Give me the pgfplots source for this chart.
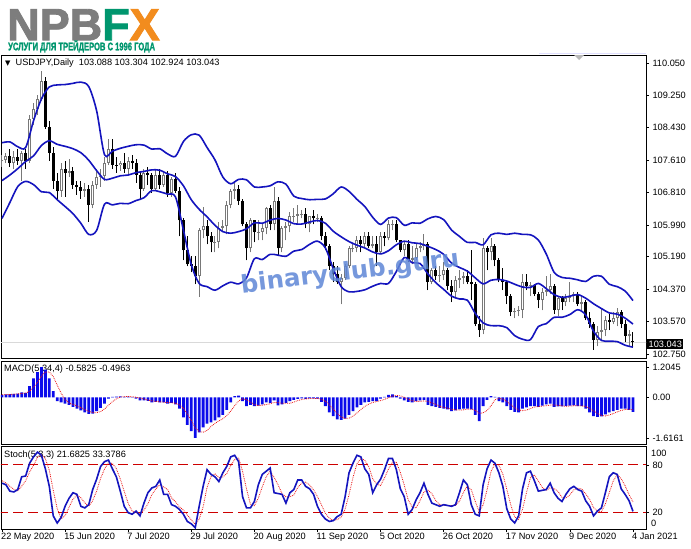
\documentclass[border=0pt]{standalone}
\usepackage{graphicx}
\usepackage{pgfplots}
\usepackage{pgfplotstable}
\pgfplotsset{compat=1.18}
\usepackage{fontspec}
\setmainfont{Liberation Sans}
\newfontfamily\dejavu{DejaVu Sans}
\newfontfamily\logofont[FakeBold=2]{Liberation Sans}

\definecolor{band}{RGB}{20,20,190}
\definecolor{bullgray}{RGB}{120,120,120}
\definecolor{histblue}{RGB}{10,10,235}
\definecolor{sigred}{RGB}{235,20,20}
\definecolor{lvlred}{RGB}{205,0,0}
\definecolor{logogray}{RGB}{125,125,125}
\definecolor{logogreen}{RGB}{0,150,110}
\definecolor{logoorange}{RGB}{242,140,30}
\definecolor{water}{RGB}{95,135,215}

% daily candles, bar 0 = 22 May 2020, bar 160 = 4 Jan 2021
\pgfplotstableread{
i o h l c
0 107.60 107.75 107.45 107.62
1 107.62 107.80 107.55 107.72
3 107.53 107.85 107.40 107.70
5 107.60 107.85 107.10 107.80
7 107.60 108.75 107.55 108.65
8 108.65 109.05 108.50 108.90
9 108.90 109.25 108.75 109.15
10 109.15 109.85 109.10 109.60
15 106.85 107.55 106.70 107.40
17 107.30 107.65 107.20 107.35
21 106.85 107.05 106.70 106.90
23 106.50 107.10 106.40 107.00
24 107.00 107.40 106.90 107.20
25 107.20 107.40 106.95 107.22
26 107.22 107.70 107.10 107.55
27 107.55 108.15 107.50 107.90
30 107.48 107.60 107.35 107.55
32 107.40 107.70 107.25 107.60
36 106.90 107.40 106.85 107.30
39 106.90 107.40 106.85 107.25
41 107.00 107.35 106.95 107.25
43 106.80 107.20 106.70 107.15
50 104.70 105.90 104.18 105.85
51 105.85 106.45 105.65 105.95
54 105.55 105.70 105.30 105.57
55 105.57 106.05 105.40 105.90
56 105.90 106.10 105.80 105.95
57 105.95 106.60 105.75 106.50
58 106.50 106.90 106.40 106.85
59 106.85 107.05 106.65 106.90
63 105.40 106.15 105.30 106.10
65 105.80 106.10 105.60 105.82
66 105.82 106.00 105.60 105.90
67 105.90 106.45 105.75 106.40
69 106.00 106.95 105.85 106.60
71 105.40 105.95 105.30 105.90
72 105.90 106.05 105.60 105.95
73 105.95 106.30 105.80 106.20
74 106.20 106.40 106.05 106.22
75 106.22 106.50 106.00 106.25
76 106.25 106.35 106.15 106.27
78 106.00 106.20 105.80 106.20
80 106.15 106.25 106.05 106.17
86 104.55 104.75 104.00 104.65
87 104.65 105.00 104.60 104.95
88 104.95 105.45 104.90 105.40
89 105.40 105.50 105.30 105.42
90 105.42 105.70 105.30 105.60
92 105.50 105.80 105.40 105.70
94 105.45 105.70 105.40 105.50
96 105.30 105.80 105.25 105.70
98 105.65 106.10 105.60 106.00
99 106.00 106.10 105.85 106.02
102 105.35 105.55 105.20 105.50
104 105.10 105.45 105.00 105.15
105 105.15 105.50 105.10 105.40
106 105.40 105.55 105.30 105.45
107 105.45 105.75 105.35 105.50
109 104.55 104.90 104.50 104.85
111 104.70 104.95 104.55 104.72
112 104.72 105.05 104.60 104.85
115 104.30 104.70 104.15 104.60
116 104.60 104.85 104.40 104.65
117 104.65 104.80 104.50 104.70
122 103.35 105.65 103.25 105.40
124 105.30 105.65 105.10 105.45
130 103.80 103.90 103.65 103.82
131 103.82 103.95 103.70 103.85
132 103.85 104.75 103.65 104.55
134 104.45 104.55 104.20 104.47
137 104.10 104.40 103.85 104.30
138 104.30 104.70 104.20 104.35
139 104.35 104.75 104.25 104.45
141 103.85 104.20 103.70 104.15
143 104.05 104.25 103.95 104.15
144 104.15 104.55 104.05 104.20
145 104.20 104.30 104.05 104.25
147 104.00 104.20 103.85 104.05
151 103.10 103.45 102.95 103.30
152 103.30 103.90 103.10 103.35
153 103.35 103.70 103.20 103.60
155 103.55 103.80 103.50 103.65
156 103.65 103.90 103.45 103.80
159 103.20 103.35 102.95 103.25
}\bull

\pgfplotstableread{
i o h l c
2 107.72 107.90 107.45 107.53
4 107.70 107.90 107.50 107.60
6 107.80 107.90 107.40 107.60
11 109.60 109.70 108.40 108.45
12 108.45 108.60 107.60 107.80
13 107.80 107.95 106.90 107.10
14 107.10 107.30 106.60 106.85
16 107.40 107.60 106.70 107.30
18 107.35 107.45 106.90 107.00
19 107.00 107.10 106.75 106.95
20 106.95 107.10 106.65 106.85
22 106.90 107.00 106.07 106.50
28 107.90 108.15 107.40 107.50
29 107.50 107.70 107.30 107.48
31 107.55 107.80 107.30 107.40
33 107.60 107.75 107.40 107.55
34 107.55 107.65 107.05 107.25
35 107.25 107.35 106.65 106.90
37 107.30 107.45 107.00 107.25
38 107.25 107.30 106.80 106.90
40 107.25 107.40 106.90 107.00
42 107.25 107.35 106.70 106.80
44 107.15 107.30 106.80 106.85
45 106.85 106.95 105.70 106.10
46 106.10 106.15 105.10 105.35
47 105.35 105.70 104.95 105.00
48 105.00 105.20 104.80 104.95
49 104.95 105.20 104.50 104.70
52 105.95 106.10 105.50 105.70
53 105.70 105.80 105.30 105.55
60 106.90 107.00 106.50 106.60
61 106.60 106.65 105.95 106.00
62 106.00 106.05 105.10 105.40
64 106.10 106.10 105.55 105.80
68 106.40 106.50 105.85 106.00
70 106.60 106.70 105.20 105.40
77 106.27 106.40 105.90 106.00
79 106.20 106.35 106.00 106.15
81 106.17 106.20 105.60 105.70
82 105.70 105.80 105.35 105.45
83 105.45 105.50 104.85 104.95
84 104.95 105.05 104.55 104.75
85 104.75 104.95 104.50 104.55
91 105.60 105.70 105.30 105.50
93 105.70 105.80 105.40 105.45
95 105.50 105.70 104.95 105.30
97 105.70 105.80 105.45 105.65
100 106.02 106.10 105.55 105.60
101 105.60 105.60 105.30 105.35
103 105.50 105.60 105.05 105.10
108 105.50 105.55 104.35 104.55
110 104.85 104.95 104.60 104.70
113 104.85 104.90 104.35 104.45
114 104.45 104.60 104.05 104.30
118 104.70 104.85 104.50 104.55
119 104.55 105.35 104.10 104.50
120 104.50 104.55 103.45 103.50
121 103.50 103.70 103.18 103.35
123 105.40 105.45 104.85 105.30
125 105.45 105.50 104.95 105.10
126 105.10 105.15 104.55 104.60
127 104.60 104.90 104.35 104.55
128 104.55 104.60 104.00 104.20
129 104.20 104.25 103.70 103.80
133 104.55 104.75 104.35 104.45
135 104.47 104.50 104.20 104.25
136 104.25 104.30 103.90 104.10
140 104.45 104.50 103.75 103.85
142 104.15 104.20 103.85 104.05
146 104.25 104.30 103.95 104.00
148 104.05 104.10 103.60 103.65
149 103.65 103.80 103.40 103.50
150 103.50 103.55 102.86 103.10
154 103.60 103.75 103.35 103.55
157 103.80 103.85 103.40 103.50
158 103.50 103.60 103.05 103.20
160 103.088 103.304 102.924 103.043
}\bear

% Bollinger bands: upper, middle, lower
\pgfplotstableread{
i u m l
0 108.05 107.10 106.15
2 108.07 107.24 106.55
4 107.95 107.40 106.95
6 107.93 107.58 107.08
8 108.60 107.72 107.00
10 109.15 107.98 106.82
12 109.45 108.10 106.80
14 109.50 108.01 106.62
16 109.51 107.96 106.45
18 109.54 107.90 106.27
20 109.57 107.80 106.03
22 109.46 107.61 105.75
24 108.85 107.35 105.85
26 107.75 107.13 106.51
28 107.84 107.16 106.49
30 107.91 107.22 106.53
32 107.96 107.24 106.52
34 108.00 107.30 106.60
36 107.99 107.33 106.67
38 107.89 107.37 106.85
40 107.90 107.36 106.82
42 107.77 107.27 106.76
44 107.71 107.20 106.69
46 108.08 106.97 105.86
48 108.25 106.62 104.99
50 108.24 106.38 104.52
52 107.93 106.19 104.44
54 107.62 105.98 104.35
56 107.19 105.82 104.46
58 107.02 105.78 104.55
60 107.13 105.82 104.51
62 107.12 105.89 104.66
64 106.94 106.04 105.14
66 106.94 106.03 105.12
68 106.97 106.11 105.25
70 107.07 106.15 105.23
72 107.01 106.11 105.20
74 106.71 106.02 105.33
76 106.65 106.01 105.37
78 106.62 106.06 105.50
80 106.63 106.10 105.58
82 106.64 106.03 105.41
84 106.77 105.83 104.89
86 106.94 105.69 104.44
88 106.83 105.57 104.31
90 106.63 105.48 104.32
92 106.45 105.41 104.36
94 106.18 105.31 104.45
96 106.00 105.26 104.52
98 106.16 105.34 104.52
100 106.17 105.49 104.82
102 105.98 105.58 105.17
104 106.04 105.54 105.04
106 106.03 105.52 105.02
108 106.14 105.45 104.76
110 106.20 105.37 104.54
112 106.12 105.25 104.37
114 105.86 105.03 104.20
116 105.70 104.92 104.13
118 105.55 104.83 104.10
120 105.55 104.66 103.77
122 105.49 104.51 103.53
124 105.74 104.60 103.46
126 105.78 104.62 103.46
128 105.75 104.58 103.41
130 105.78 104.50 103.21
132 105.75 104.43 103.12
134 105.74 104.42 103.11
136 105.61 104.52 103.44
138 105.26 104.39 103.51
140 104.80 104.24 103.67
142 104.67 104.17 103.67
144 104.65 104.20 103.74
146 104.61 104.24 103.86
148 104.57 104.15 103.73
150 104.70 104.01 103.32
152 104.70 103.89 103.09
154 104.50 103.78 103.07
156 104.44 103.75 103.06
158 104.33 103.65 102.97
160 104.09 103.50 102.92
}\bands

% MACD histogram (m) and signal (s)
\pgfplotstableread{
i m s
0 0.10 0.10
1 0.12 0.11
2 0.13 0.115
3 0.14 0.1225
4 0.15 0.135
5 0.20 0.155
6 0.18 0.1675
7 0.45 0.245
8 0.75 0.395
9 1.00 0.595
10 1.2045 0.85
11 1.10 1.01
12 0.75 1.01
13 0.25 0.825
14 -0.15 0.4875
15 -0.20 0.1625
16 -0.25 -0.0875
17 -0.30 -0.225
18 -0.38 -0.2825
19 -0.45 -0.345
20 -0.52 -0.4125
21 -0.60 -0.4875
22 -0.66 -0.5575
23 -0.65 -0.6075
24 -0.55 -0.615
25 -0.42 -0.57
26 -0.25 -0.4675
27 -0.05 -0.3175
28 0.02 -0.175
29 0.03 -0.0625
30 0.04 0.01
31 0.02 0.0275
32 0.03 0.03
33 0.01 0.025
34 -0.05 0.0025
35 -0.12 -0.0325
36 -0.12 -0.07
37 -0.14 -0.1075
38 -0.20 -0.145
39 -0.18 -0.16
40 -0.20 -0.18
41 -0.20 -0.195
42 -0.25 -0.2075
43 -0.22 -0.2175
44 -0.28 -0.2375
45 -0.45 -0.30
46 -0.80 -0.4375
47 -1.10 -0.6575
48 -1.35 -0.925
49 -1.6161 -1.2175
50 -1.40 -1.3675
51 -1.20 -1.3925
52 -1.05 -1.3175
53 -1.00 -1.1625
54 -0.92 -1.0425
55 -0.80 -0.9425
56 -0.70 -0.855
57 -0.50 -0.73
58 -0.20 -0.55
59 0.05 -0.3375
60 0.07 -0.145
61 -0.15 -0.0575
62 -0.35 -0.095
63 -0.30 -0.1825
64 -0.35 -0.2875
65 -0.33 -0.3325
66 -0.28 -0.315
67 -0.20 -0.29
68 -0.22 -0.2575
69 -0.12 -0.205
70 -0.32 -0.215
71 -0.28 -0.235
72 -0.22 -0.235
73 -0.15 -0.2425
74 -0.10 -0.1875
75 -0.06 -0.1325
76 -0.04 -0.0875
77 -0.06 -0.065
78 -0.04 -0.05
79 -0.04 -0.05
80 -0.05 -0.0475
81 -0.18 -0.0775
82 -0.35 -0.155
83 -0.60 -0.295
84 -0.75 -0.47
85 -0.88 -0.645
86 -0.90 -0.7825
87 -0.85 -0.845
88 -0.70 -0.8325
89 -0.55 -0.75
90 -0.40 -0.625
91 -0.30 -0.4875
92 -0.20 -0.3625
93 -0.18 -0.27
94 -0.15 -0.2075
95 -0.15 -0.17
96 -0.05 -0.1325
97 0.02 -0.0825
98 0.10 -0.02
99 0.12 0.0475
100 0.05 0.0725
101 -0.05 0.055
102 -0.12 0.0
103 -0.18 -0.075
104 -0.20 -0.1375
105 -0.15 -0.1625
106 -0.12 -0.1625
107 -0.10 -0.1425
108 -0.30 -0.1675
109 -0.35 -0.2175
110 -0.38 -0.2825
111 -0.42 -0.3625
112 -0.45 -0.40
113 -0.48 -0.4325
114 -0.55 -0.475
115 -0.52 -0.50
116 -0.48 -0.5075
117 -0.45 -0.50
118 -0.45 -0.475
119 -0.48 -0.465
120 -0.70 -0.52
121 -0.95 -0.645
122 -0.35 -0.62
123 -0.10 -0.525
124 0.05 -0.3375
125 0.02 -0.095
126 -0.15 -0.045
127 -0.20 -0.07
128 -0.35 -0.17
129 -0.50 -0.30
130 -0.58 -0.4075
131 -0.60 -0.5075
132 -0.45 -0.5325
133 -0.40 -0.5075
134 -0.35 -0.45
135 -0.35 -0.3875
136 -0.38 -0.37
137 -0.33 -0.3525
138 -0.28 -0.335
139 -0.25 -0.31
140 -0.38 -0.31
141 -0.36 -0.3175
142 -0.36 -0.3375
143 -0.34 -0.36
144 -0.33 -0.3475
145 -0.32 -0.3375
146 -0.35 -0.335
147 -0.35 -0.3375
148 -0.45 -0.3675
149 -0.60 -0.4375
150 -0.75 -0.5375
151 -0.78 -0.645
152 -0.76 -0.7225
153 -0.68 -0.7425
154 -0.60 -0.705
155 -0.55 -0.6475
156 -0.50 -0.5825
157 -0.45 -0.525
158 -0.45 -0.4875
159 -0.50 -0.475
160 -0.5825 -0.4963
}\macd

% Stochastic %K (k) and %D (d)
\pgfplotstableread{
i k d
0 57 60
1 55 57.3
2 47 53
3 46 49.3
4 49 47.3
5 65 53.3
6 66 60
7 82 71
8 90 79.3
9 96 89.3
10 92 92.7
11 75 87.7
12 53 73.3
13 16 48
14 7 25.3
15 14 12.3
16 28 16.3
17 38 26.7
18 45 37
19 43 42
20 28 38.7
21 26 32.3
22 30 28
23 49 35
24 62 47
25 78 63
26 84 74.7
27 86 82.7
28 75 81.7
29 65 75.3
30 47 62.3
31 28 46.7
32 20 31.7
33 18 22
34 22 20
35 16 18.7
36 32 23.3
37 45 31
38 51 42.7
39 53 49.7
40 61 55
41 43 52.3
42 43 49
43 30 38.7
44 28 33.7
45 24 27.3
46 18 23.3
47 9 17
48 6 11
49 1 5.3
50 28 11.7
51 53 27.3
52 74 51.7
53 68 65
54 65 69
55 59 64
56 70 64.7
57 78 69
58 90 79.3
59 92 86.7
60 84 88.7
61 40 72
62 26 50
63 26 30.7
64 34 28.7
65 55 38.3
66 68 52.3
67 72 65
68 76 72
69 45 64.3
70 44 55
71 43 44
72 32 39.7
73 45 40
74 49 42
75 61 51.7
76 61 57
77 53 58.3
78 50 54.7
79 43 48.7
80 28 40.3
81 18 29.7
82 12 19.3
83 9 13
84 10 10.3
85 15 11.3
86 18 14.3
87 40 24.3
88 70 42.7
89 82 64
90 92 81.3
91 90 88
92 75 85.7
93 68 77.7
94 45 62.7
95 55 56
96 62 54
97 74 63.7
98 88 74.7
99 88 83.3
100 74 83.3
101 50 70.7
102 40 54.7
103 18 36
104 24 27.3
105 36 26
106 45 35
107 57 46
108 43 48.3
109 32 44
110 30 35
111 28 30
112 30 29.3
113 29 29
114 28 29
115 30 29
116 45 34.3
117 61 45.3
118 55 53.7
119 30 48.7
120 18 34.3
121 16 21.3
122 55 29.7
123 75 48.7
124 86 72
125 82 81
126 70 79.3
127 53 68.3
128 25 49.3
129 12 30
130 7 14.7
131 16 11.7
132 50 24.3
133 70 45.3
134 72 64
135 60 67.3
136 47 59.7
137 48 51.7
138 49 48
139 57 51.3
140 45 50.3
141 38 46.7
142 34 39
143 43 38.3
144 50 42.3
145 53 48.7
146 49 50.7
147 47 49.7
148 35 43.7
149 28 36.7
150 16 26.3
151 22 22
152 26 21.3
153 45 31
154 65 45.3
155 70 60
156 68 67.7
157 50 62.7
158 43 53.7
159 35 42.7
160 21.6825 33.3786
}\stoch

\pgfplotsset{
  mtpanel/.style={
    scale only axis, width=645pt,
    xmin=-0.25, xmax=163.3,
    axis line style={line width=0.8pt},
    ytick pos=right, yticklabel pos=right,
    tick align=outside, major tick length=3pt,
    tick style={black, line width=0.6pt},
    ticklabel style={font=\fontsize{9.2}{10}\selectfont},
    xtick=\empty,
  },
  candle/.style 2 args={draw=none, only marks, mark=none, mark size=0pt,
    error bars/.cd, y dir=plus, y explicit, error mark=none,
    error bar style={draw=#1, line width=#2}},
}

\begin{document}
\begin{tikzpicture}
\fill[white] (0,0) rectangle (691pt,-549pt);
\path[use as bounding box] (0,0) rectangle (691pt,-549pt);

% logo
\node[anchor=north west, inner sep=0pt, text height=32pt, text depth=0pt,
  font=\logofont\bfseries\fontsize{45}{45}\selectfont]
  at (7pt,-8pt) {\textcolor{logogray}{NPB}\textcolor{logogreen}{F}\textcolor{logoorange}{X}};
\node[anchor=south west, inner sep=0pt, text depth=0pt] at (8pt,-50.5pt)
  {\scalebox{0.69}[1]{\logofont\fontsize{11}{11}\selectfont\bfseries\color{logogreen}УСЛУГИ ДЛЯ ТРЕЙДЕРОВ С 1996 ГОДА}};

% panel captions (drawn under the plots)
\node[anchor=west, inner sep=0pt, font=\fontsize{9.2}{10}\selectfont] at (5pt,-63pt)
  {{\dejavu\fontsize{7}{8}\selectfont ▼}\ \ USDJPY,Daily\ \ 103.088 103.304 102.924 103.043};
\node[anchor=west, inner sep=0pt, font=\fontsize{9.2}{10}\selectfont] at (4pt,-369pt)
  {MACD(5,34,4) -0.5825 -0.4963};
\node[anchor=west, inner sep=0pt, font=\fontsize{9.2}{10}\selectfont] at (4pt,-455pt)
  {Stoch(5,3,3) 21.6825 33.3786};

\draw[blue!12, line width=1pt] (539pt,-53.5pt) -- (646pt,-53.5pt);

% main price panel
\begin{axis}[mtpanel, at={(1pt,-358pt)}, anchor=south west, height=303pt,
  ymin=102.649, ymax=110.251,
  ytick={102.75,103.57,104.37,105.19,105.99,106.81,107.61,108.43,109.25,110.05},
  yticklabels={102.750,103.570,104.370,105.190,105.990,106.810,107.610,108.430,109.250,110.050}]
\addplot[gray!30, line width=0.8pt] coordinates {(-1,103.043) (170,103.043)};
\addplot[candle={bullgray}{1pt}] table[x=i, y=l, y error plus expr=\thisrow{h}-\thisrow{l}] {\bull};
\addplot[candle={black}{1pt}] table[x=i, y=l, y error plus expr=\thisrow{h}-\thisrow{l}] {\bear};
\addplot[candle={bullgray}{3pt}] table[x=i, y=o, y error plus expr=\thisrow{c}-\thisrow{o}] {\bull};
\addplot[candle={black}{3pt}] table[x=i, y=c, y error plus expr=\thisrow{o}-\thisrow{c}] {\bear};
\addplot[candle={white}{1pt}]
  table[x=i, y expr=\thisrow{o}+0.025, y error plus expr={max(\thisrow{c}-\thisrow{o}-0.05,0)}] {\bull};
\addplot[band, line width=1.6pt, smooth] table[x=i, y=u] {\bands};
\addplot[band, line width=1.6pt, smooth] table[x=i, y=m] {\bands};
\addplot[band, line width=1.6pt, smooth] table[x=i, y=l] {\bands};
\end{axis}

% MACD panel
\begin{axis}[mtpanel, at={(1pt,-444pt)}, anchor=south west, height=83pt,
  ymin=-1.861, ymax=1.446,
  ytick={-1.6161,0,1.2045}, yticklabels={-1.6161,0.00,1.2045}]
\addplot[ybar, bar width=2.8pt, bar shift=0pt, fill=histblue, draw=none] table[x=i, y=m] {\macd};
\addplot[sigred, densely dotted, line width=0.8pt] table[x=i, y=s] {\macd};
\end{axis}

% Stochastic panel
\begin{axis}[mtpanel, at={(1pt,-529pt)}, anchor=south west, height=82.5pt,
  ymin=-0.5, ymax=103,
  ytick={20,80}, yticklabels={20,80},
  xtick={0,16,...,160}, xtick pos=bottom,
  xticklabels={22 May 2020,15 Jun 2020,7 Jul 2020,29 Jul 2020,20 Aug 2020,11 Sep 2020,
    5 Oct 2020,26 Oct 2020,17 Nov 2020,9 Dec 2020,4 Jan 2021},
  xticklabel style={anchor=north west, xshift=-2pt, inner sep=1pt}]
\addplot[lvlred, dash pattern=on 10pt off 5pt, line width=0.9pt] coordinates {(-1,80) (170,80)};
\addplot[lvlred, dash pattern=on 10pt off 5pt, line width=0.9pt] coordinates {(-1,20) (170,20)};
\addplot[sigred, densely dotted, line width=0.8pt] table[x=i, y=d] {\stoch};
\addplot[band, line width=1.6pt] table[x=i, y=k] {\stoch};
\end{axis}

\node[anchor=west, inner sep=0pt, font=\fontsize{9.2}{10}\selectfont] at (651pt,-453pt) {100};
\node[anchor=west, inner sep=0pt, font=\fontsize{9.2}{10}\selectfont] at (651pt,-523pt) {0};

% current price tag
\node[fill=black, text=white, inner sep=1.5pt, anchor=west, font=\fontsize{9.2}{10}\selectfont]
  at (647pt,-344pt) {103.043};

% chart shift marker
\fill[gray!55] (574pt,-55pt) -- (584pt,-55pt) -- (579pt,-60pt) -- cycle;

% watermark
\node[rotate=7, text=water, opacity=0.85, font=\dejavu\bfseries\fontsize{24.5}{25}\selectfont]
  at (350pt,-273pt) {binaryclub.guru};
\end{tikzpicture}
\end{document}
